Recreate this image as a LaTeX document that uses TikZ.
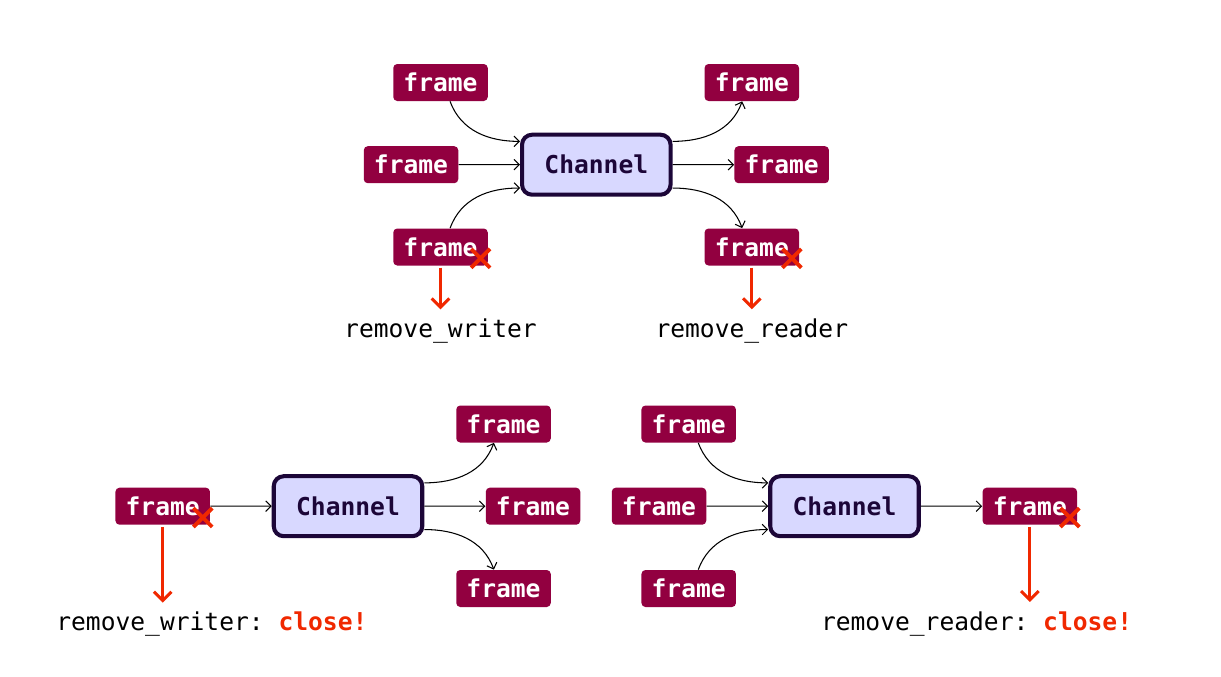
\documentclass[tikz,border=0pt]{standalone}
\usepackage{fontspec}
\setmonofont{DejaVu Sans Mono}
\usetikzlibrary{arrows.meta,shapes.misc}
\definecolor{framered}{RGB}{146,0,64}
\definecolor{chanfill}{RGB}{216,216,255}
\definecolor{chanline}{RGB}{28,6,56}
\definecolor{closered}{RGB}{240,40,0}
\begin{document}
\begin{tikzpicture}[scale=0.2,
    framebox/.style={fill=framered, rounded corners=0.08cm, minimum width=1.89cm, minimum height=0.74cm, text=white, font=\ttfamily\bfseries\fontsize{14}{16}\selectfont},
    chanbox/.style={draw=chanline, line width=2.3pt, fill=chanfill, rounded corners=0.2cm, minimum width=2.97cm, minimum height=1.2cm, text=chanline, font=\ttfamily\bfseries\fontsize{14}{16}\selectfont},
    gone/.style={cross out, draw=closered, line width=2.2pt, minimum size=0.3cm},
    note/.style={font=\ttfamily\fontsize{14}{16}\selectfont},
    flow/.style={draw=black, line width=0.6pt, -{Straight Barb[length=3pt,width=6pt]}},
    kill/.style={draw=closered, line width=1.7pt, shorten <=1pt, -{Straight Barb[length=5pt,width=10pt]}}]
    \tikzstyle{every node}+=[inner sep=0pt]
    \useasboundingbox (0,0) rectangle (122.1,-67.6);
    \node [chanbox] (ch1) at (59.63,-16.47) {Channel};
    \node [framebox] (ftl) at (44.05,-8.25) {frame};
    \node [framebox] (fml) at (41.1,-16.47) {frame};
    \node [framebox] (fbl) at (44.05,-24.7) {frame};
    \node [framebox] (ftr) at (75.18,-8.25) {frame};
    \node [framebox] (fmr) at (78.17,-16.47) {frame};
    \node [framebox] (fbr) at (75.18,-24.7) {frame};
    \node [gone] (xbl) at ([xshift=-0.75cm,yshift=0.75cm]fbl.south east) {};
    \node [gone] (xbr) at ([xshift=-0.75cm,yshift=0.75cm]fbr.south east) {};
    \node [note, anchor=base] (rw1) at (44.05,-33.73) {remove\_writer};
    \node [note, anchor=base] (rr1) at (75.18,-33.73) {remove\_reader};
    \draw [flow] (ftl.-63) to[out=-70,in=180] (ch1.163);
    \draw [flow] (fml) -- (ch1);
    \draw [flow] (fbl.63) to[out=70,in=180] (ch1.-163);
    \draw [flow] (ch1.17) to[out=0,in=-110] (ftr.-117);
    \draw [flow] (ch1) -- (fmr);
    \draw [flow] (ch1.-17) to[out=0,in=110] (fbr.117);
    \draw [kill] (fbl.south) -- ([yshift=0.9cm]rw1.north);
    \draw [kill] (fbr.south) -- ([yshift=0.9cm]rr1.north);
    \node [chanbox] (ch2) at (34.8,-50.62) {Channel};
    \node [framebox] (fw) at (16.27,-50.62) {frame};
    \node [framebox] (fo1) at (50.35,-42.4) {frame};
    \node [framebox] (fo2) at (53.3,-50.62) {frame};
    \node [framebox] (fo3) at (50.35,-58.85) {frame};
    \node [gone] (xw) at ([xshift=-0.75cm,yshift=0.75cm]fw.south east) {};
    \node [note, anchor=base west] (cw) at (5.6,-63.07) {remove\_writer: {\color{closered}\bfseries close!}};
    \draw [flow] (fw) -- (ch2);
    \draw [flow] (ch2.17) to[out=0,in=-110] (fo1.-117);
    \draw [flow] (ch2) -- (fo2);
    \draw [flow] (ch2.-17) to[out=0,in=110] (fo3.117);
    \draw [kill] (fw.south) -- ([yshift=0.9cm]cw.north -| fw.south);
    \node [chanbox] (ch3) at (84.45,-50.62) {Channel};
    \node [framebox] (fi1) at (68.87,-42.4) {frame};
    \node [framebox] (fi2) at (65.9,-50.62) {frame};
    \node [framebox] (fi3) at (68.87,-58.85) {frame};
    \node [framebox] (fr) at (102.98,-50.62) {frame};
    \node [gone] (xr) at ([xshift=-0.75cm,yshift=0.75cm]fr.south east) {};
    \node [note, anchor=base west] (cr) at (82.07,-63.0) {remove\_reader: {\color{closered}\bfseries close!}};
    \draw [flow] (fi1.-63) to[out=-70,in=180] (ch3.163);
    \draw [flow] (fi2) -- (ch3);
    \draw [flow] (fi3.63) to[out=70,in=180] (ch3.-163);
    \draw [flow] (ch3) -- (fr);
    \draw [kill] (fr.south) -- ([yshift=0.9cm]cr.north -| fr.south);
\end{tikzpicture}
\end{document}
